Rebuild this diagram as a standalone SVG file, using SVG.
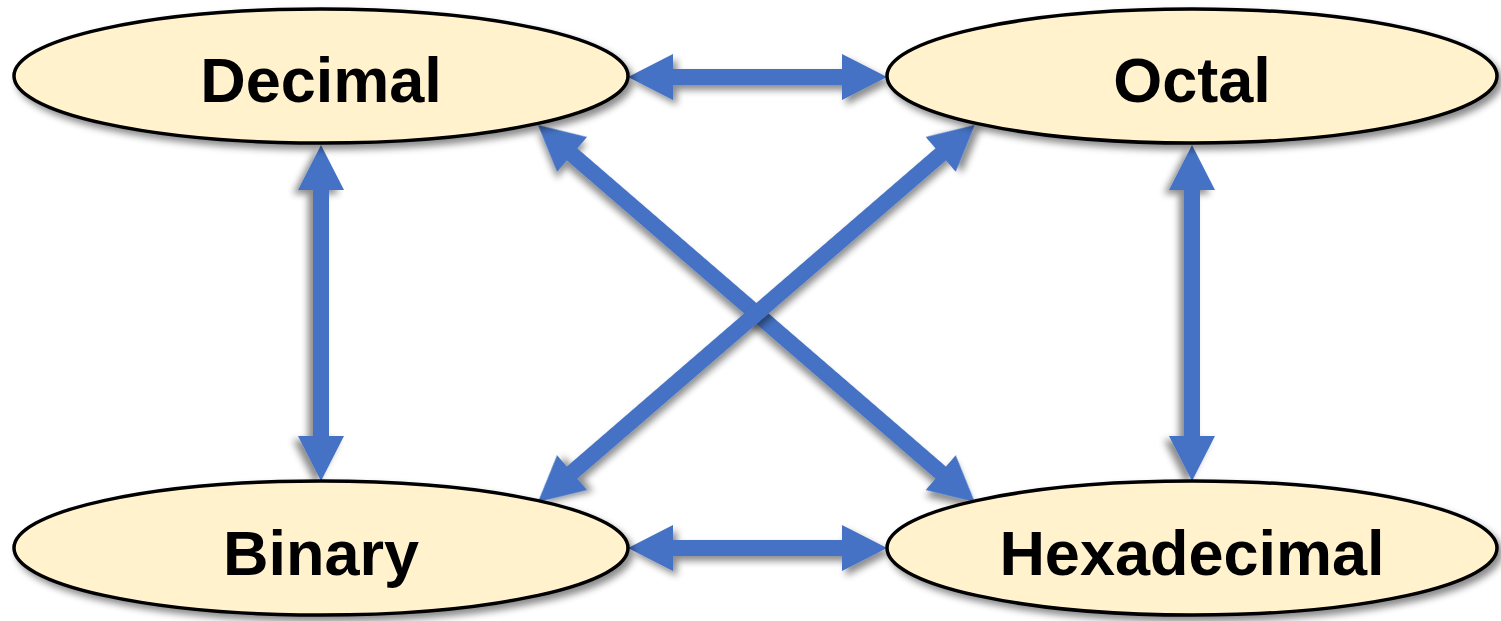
<svg xmlns="http://www.w3.org/2000/svg" width="1501" height="621" viewBox="0 0 1501 621">
  <defs>
    <filter id="shadow" x="-20%" y="-20%" width="140%" height="150%">
      <feDropShadow dx="4" dy="5" stdDeviation="3.5" flood-color="#000" flood-opacity="0.45"/>
    </filter>
  </defs>
  <style>
    .node ellipse { fill: #FFF2CC; stroke: #000; stroke-width: 3.5; filter: url(#shadow); }
    .node text { font-family: "Liberation Sans", Arial, sans-serif; font-weight: bold; font-size: 63px; fill: #000; text-anchor: middle; }
    .arrow { fill: #4472C4; filter: url(#shadow); }
  </style>
  <rect width="1501" height="621" fill="#fff"/>

  <g id="connectors">
    <polygon class="arrow" transform="translate(628,77)" points="0,0 45,-23 45,-8 214,-8 214,-23 259,0 214,23 214,8 45,8 45,23"/>
    <polygon class="arrow" transform="translate(628,548)" points="0,0 45,-23 45,-8 214,-8 214,-23 259,0 214,23 214,8 45,8 45,23"/>
    <polygon class="arrow" transform="translate(321,145) rotate(90)" points="0,0 45,-23 45,-8 291,-8 291,-23 336,0 291,23 291,8 45,8 45,23"/>
    <polygon class="arrow" transform="translate(1192,145) rotate(90)" points="0,0 45,-23 45,-8 291,-8 291,-23 336,0 291,23 291,8 45,8 45,23"/>
    <polygon class="arrow" transform="translate(538,125) rotate(40.8)" points="0,0 45,-23 45,-8 532,-8 532,-23 577,0 532,23 532,8 45,8 45,23"/>
    <polygon class="arrow" transform="translate(538,502) rotate(-40.8)" points="0,0 45,-23 45,-8 532,-8 532,-23 577,0 532,23 532,8 45,8 45,23"/>
  </g>

  <g id="decimal" class="node">
    <ellipse cx="321" cy="76" rx="307" ry="67"/>
    <text x="321" y="102">Decimal</text>
  </g>
  <g id="octal" class="node">
    <ellipse cx="1192" cy="76" rx="305" ry="67"/>
    <text x="1192" y="102">Octal</text>
  </g>
  <g id="binary" class="node">
    <ellipse cx="321" cy="548" rx="307" ry="67"/>
    <text x="321" y="575">Binary</text>
  </g>
  <g id="hexadecimal" class="node">
    <ellipse cx="1192" cy="548" rx="305" ry="67"/>
    <text x="1192" y="575">Hexadecimal</text>
  </g>
</svg>
